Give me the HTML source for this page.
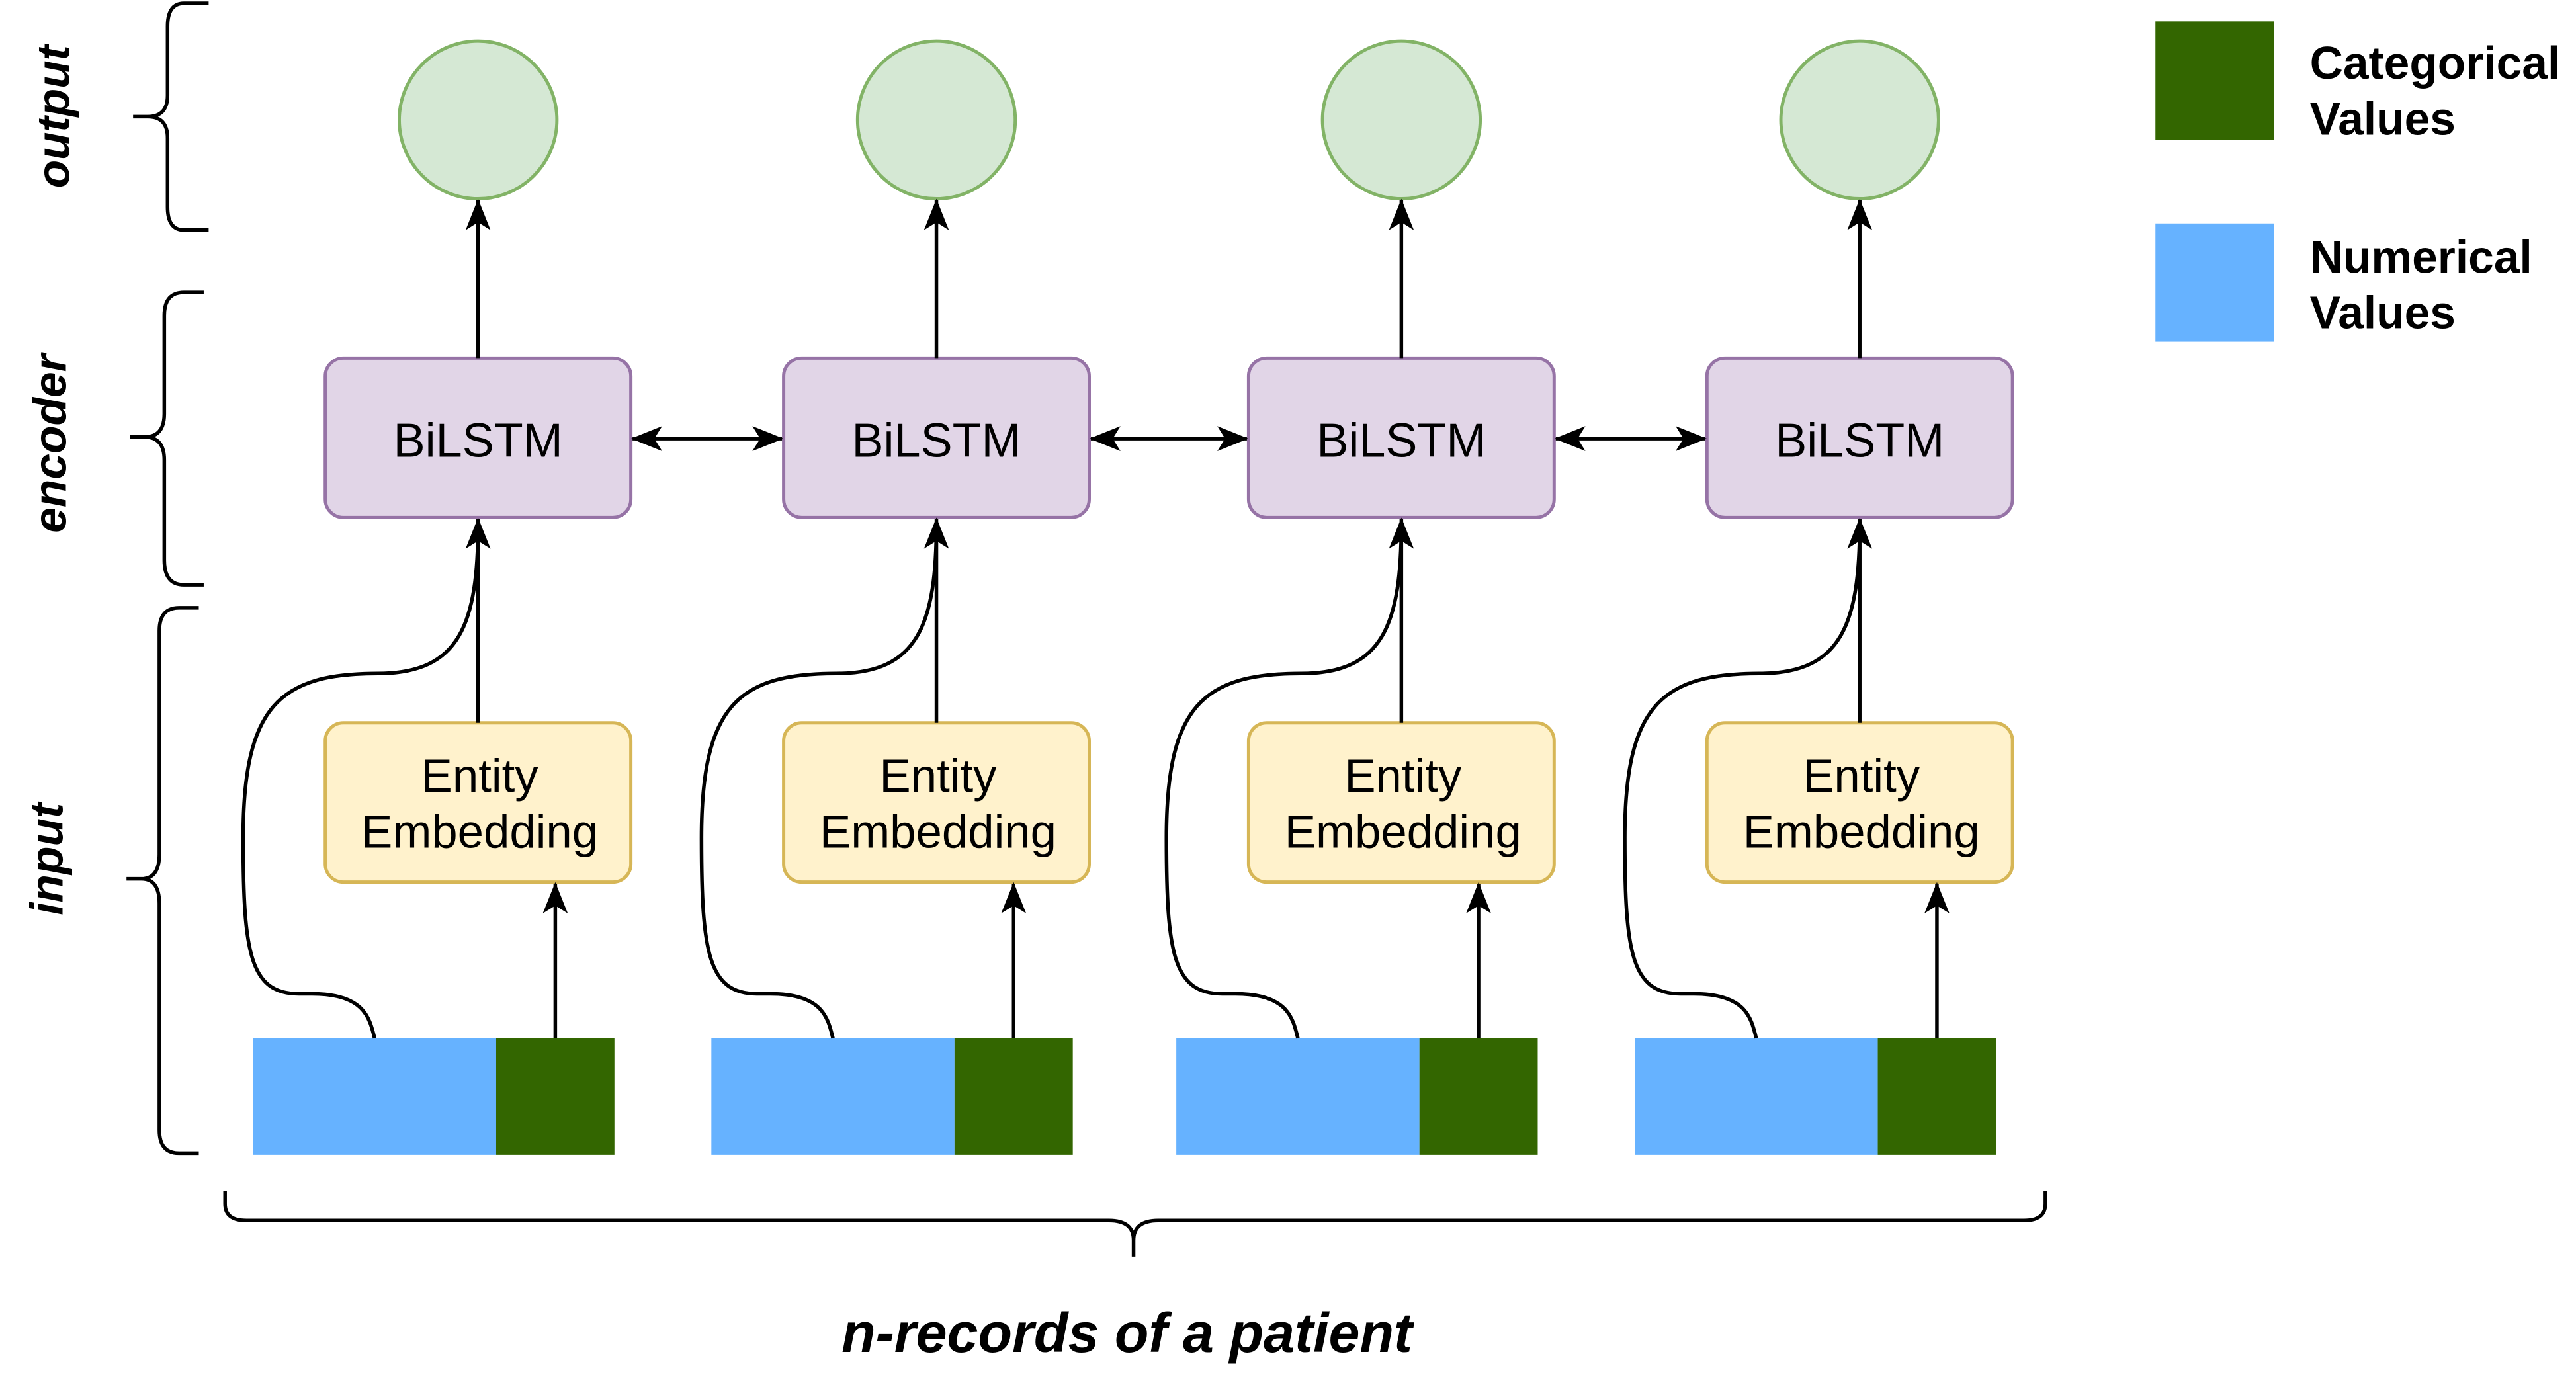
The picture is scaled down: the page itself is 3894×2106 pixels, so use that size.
<!DOCTYPE html>
<html><head><meta charset="utf-8"><style>html,body{margin:0;padding:0;background:#fff;}svg{display:block}</style></head>
<body>
<svg width="3894" height="2106" viewBox="0 0 1568 848" xmlns="http://www.w3.org/2000/svg" font-family="Liberation Sans, sans-serif">
<defs>
<marker id="a" viewBox="0 0 20 20" refX="19" refY="10" markerWidth="19" markerHeight="19" markerUnits="userSpaceOnUse" orient="auto-start-reverse">
<path d="M0,2 L20,10 L0,18 L5,10 Z" fill="#000"/>
</marker>
</defs>
<rect width="1568" height="848" fill="#fff"/>
<g fill="none" stroke="#000" stroke-width="2.2">
<path d="M127,2 L112,2 Q102,2 102,16 L102,58 Q102,71 90,71 L81,71 L90,71 Q102,71 102,84 L102,126 Q102,140 112,140 L127,140"/>
<path d="M124,178 L112,178 Q100,178 100,192 L100,252 Q100,266 88,266 L79,266 L88,266 Q100,266 100,280 L100,341 Q100,356 112,356 L124,356"/>
<path d="M121,370 L109,370 Q97,370 97,384 L97,520 Q97,535 86,535 L77,535 L86,535 Q97,535 97,550 L97,688 Q97,702 109,702 L121,702"/>
<path d="M137,725 L137,733 Q137,743 150,743 L675,743 Q690,743 690,755 L690,765 L690,755 Q690,743 705,743 L1232,743 Q1245,743 1245,733 L1245,725"/>
</g>
<g font-weight="bold" font-style="italic" font-size="28" text-anchor="middle" fill="#000">
<text transform="translate(42,71) rotate(-90)">output</text>
<text transform="translate(40,270) rotate(-90)">encoder</text>
<text transform="translate(38,523) rotate(-90)">input</text>
<text x="686" y="823" font-size="34">n-records of a patient</text>
</g>
<g font-weight="bold" font-size="28" fill="#000">
<rect x="1312" y="13" width="72" height="72" fill="#336600"/>
<rect x="1312" y="136" width="72" height="72" fill="#66b2ff"/>
<text x="1406" y="48">Categorical</text><text x="1406" y="82">Values</text>
<text x="1406" y="166">Numerical</text><text x="1406" y="200">Values</text>
</g>
<g id="col">
<circle cx="291" cy="73" r="48" fill="#d5e8d4" stroke="#82b366" stroke-width="2"/>
<rect x="198" y="218" width="186" height="97" rx="11" fill="#e1d5e7" stroke="#9673a6" stroke-width="2"/>
<text x="291" y="278" font-size="29" text-anchor="middle">BiLSTM</text>
<rect x="198" y="440" width="186" height="97" rx="11" fill="#fff2cc" stroke="#d6b656" stroke-width="2"/>
<text x="292" y="482" font-size="28.5" text-anchor="middle">Entity</text>
<text x="292" y="516" font-size="28.5" text-anchor="middle">Embedding</text>
<rect x="154" y="632" width="148" height="71" fill="#66b2ff"/>
<rect x="302" y="632" width="72" height="71" fill="#336600"/>
<g fill="none" stroke="#000" stroke-width="2.2">
<path d="M291,218 L291,122" marker-end="url(#a)"/>
<path d="M291,440 L291,316" marker-end="url(#a)"/>
<path d="M338,632 L338,538" marker-end="url(#a)"/>
<path d="M228,632 C225,620 222,605 190,605 L182,605 C152,605 148,580 148,510 C148,430 170,410 230,410 C280,410 291,380 291,318"/>
</g>
</g>
<use href="#col" x="279"/>
<use href="#col" x="562"/>
<use href="#col" x="841"/>
<g stroke="#000" stroke-width="2.2" fill="none">
<path d="M385,267 L476,267" marker-start="url(#a)" marker-end="url(#a)"/>
<path d="M664,267 L759,267" marker-start="url(#a)" marker-end="url(#a)"/>
<path d="M947,267 L1038,267" marker-start="url(#a)" marker-end="url(#a)"/>
</g>
</svg>
</body></html>
